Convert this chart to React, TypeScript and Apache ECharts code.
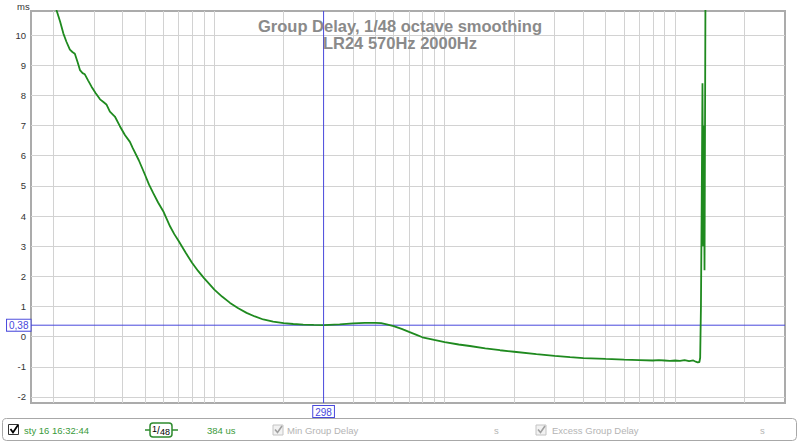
import React, { useEffect, useRef } from "react";
import * as echarts from "echarts";

// Group delay curve (Hz, ms)
const freqs = [
  20, 20.7, 21.4, 22.1, 22.8, 23.6, 24.2, 24.8, 25.5, 26.1, 26.8, 27.4, 28.3, 29.3, 30.5, 31.9,
  33.0, 34.0, 35.2, 37.0, 38.9, 40.9, 43.0, 44.2, 47, 50, 52, 54.3, 57, 60, 64.2, 67, 70, 75,
  80, 85, 90, 95, 100, 108, 117, 127, 138, 150, 163, 180, 200, 220, 243, 270, 298, 350, 400,
  450, 500, 530, 560, 600, 650, 700, 750, 800, 900, 1000, 1150, 1286, 1500, 1738, 2000, 2500,
  3000, 3500, 4000, 5000, 6000, 7000, 8000, 8500, 9000, 9500, 10000, 10500, 11000, 11500,
  12000, 12300, 12530, 12750, 12850, 12950, 13050, 13150, 13250, 13330, 13420, 13550, 13650,
  13800,
];
const delays = [
  11.3, 10.8, 10.45, 10.06, 9.78, 9.52, 9.44, 9.38, 9.1, 8.84, 8.74, 8.7, 8.5, 8.29, 8.08, 7.87,
  7.78, 7.7, 7.46, 7.3, 6.98, 6.69, 6.46, 6.26, 5.85, 5.37, 5.05, 4.76, 4.45, 4.16, 3.66, 3.4,
  3.17, 2.79, 2.45, 2.18, 1.95, 1.75, 1.56, 1.33, 1.12, 0.94, 0.79, 0.67, 0.57, 0.5, 0.45,
  0.42, 0.4, 0.39, 0.385, 0.41, 0.44, 0.455, 0.46, 0.45, 0.41, 0.35, 0.26, 0.16, 0.07, -0.02,
  -0.11, -0.18, -0.26, -0.31, -0.39, -0.45, -0.5, -0.58, -0.64, -0.68, -0.71, -0.74, -0.76,
  -0.775, -0.79, -0.78, -0.79, -0.8, -0.79, -0.8, -0.78, -0.81, -0.79, -0.83, -0.85, -0.84,
  -0.7, 1.0, 4.5, 8.4, 3.0, 7.0, 2.2, 11.5, 25,
];

// Axis ranges
const xMin = 16;
const xMax = 30000;
const yMin = -2.2;
const yMax = 10.8;

// Frequency grid lines (300 Hz lies under the cursor) and their labels
const xGridFreqs = [
  20, 30, 40, 50, 60, 70, 80, 90, 100, 200, 400, 500, 600, 700, 800, 900, 1000, 2000,
  3000, 4000, 5000, 6000, 7000, 8000, 9000, 10000, 20000,
];
const xLabelFreqs = [
  16, 20, 30, 40, 50, 60, 70, 80, 100, 200, 400, 500, 600, 800, 1000, 2000, 3000, 4000,
  5000, 6000, 7000, 8000, 10000, 20000, 30000,
];
const xLabelTexts = [
  "16", "20", "30", "40", "50", "60", "70", "80", "100", "200", "400", "500", "600", "800",
  "1k", "2k", "3k", "4k", "5k", "6k", "7k", "8k", "10k", "20k", "30,0k Hz",
];
const yTicks = [-2, -1, 0, 1, 2, 3, 4, 5, 6, 7, 8, 9, 10];

const cursorFreq = 298;
const cursorDelay = 0.38;
const cursorFreqLabel = "298";
const cursorDelayLabel = "0,38";

const FONT = "Liberation Sans, Arial, sans-serif";
const GRID_COLOR = "#d2d2d2";
const CURSOR = "#4848dc";
const CURVE = "#1f8a1f";

export default function App() {
  const ref = useRef<HTMLDivElement>(null);

  useEffect(() => {
    if (!ref.current) return;
    const chart = echarts.init(ref.current, undefined, { renderer: "svg" });

    const curve = freqs.map((f, i) => [f, delays[i]]);

    const gridLines: any[] = [];
    xGridFreqs.forEach((f) => {
      gridLines.push({ xAxis: f, label: { show: false } });
    });
    yTicks.forEach((v) => {
      gridLines.push({
        yAxis: v,
        label: {
          show: true,
          position: "start",
          formatter: String(v),
          distance: 5,
          color: "#333",
          fontSize: 9.5,
          fontFamily: FONT,
        },
      });
    });
    const hidden = { color: "#fff", opacity: 0 };
    const xLabels = xLabelFreqs.map((f, i) => ({
      xAxis: f,
      lineStyle: hidden,
      label: {
        show: true,
        position: "start",
        formatter: xLabelTexts[i],
        distance: 4,
        color: "#333",
        fontSize: 9.5,
        fontFamily: FONT,
        padding: i === xLabelFreqs.length - 1 ? [0, 16, 0, 0] : 0,
      },
    }));

    const boxLabel = {
      show: true,
      color: CURSOR,
      fontSize: 10,
      fontFamily: FONT,
      backgroundColor: "#fff",
      borderColor: CURSOR,
      borderWidth: 1,
      padding: [1, 2, 0, 2],
    };

    const legendGrey = "#b4b4b4";
    const green = "#3a9a3a";

    chart.setOption({
      animation: false,
      backgroundColor: "#fff",
      title: {
        text: "Group Delay, 1/48 octave smoothing\nLR24 570Hz 2000Hz",
        left: "center",
        top: 12,
        textStyle: {
          fontSize: 16.5,
          fontWeight: "bold",
          color: "#8a8a8a",
          fontFamily: FONT,
          lineHeight: 17.5,
        },
      },
      grid: {
        left: 31,
        top: 11,
        width: 754,
        height: 392,
        show: true,
        borderColor: "#ababab",
        borderWidth: 2,
        backgroundColor: "#fff",
      },
      xAxis: {
        type: "log",
        logBase: 10,
        min: xMin,
        max: xMax,
        axisLine: { show: false },
        axisTick: { show: false },
        axisLabel: { show: false },
        splitLine: { show: false },
        axisPointer: { show: false },
      },
      yAxis: {
        type: "value",
        min: yMin,
        max: yMax,
        axisLine: { show: false },
        axisTick: { show: false },
        axisLabel: { show: false },
        splitLine: { show: false },
        axisPointer: { show: false },
      },
      graphic: [
        {
          type: "text",
          left: 17,
          top: 1,
          style: { text: "ms", fill: "#333", fontSize: 9.5, fontFamily: FONT },
        },
        {
          type: "rect",
          shape: { x: 2.5, y: 418.5, width: 794, height: 22, r: 4 },
          style: { fill: "#fff", stroke: "#a8a8a8", lineWidth: 1 },
        },
        {
          type: "rect",
          shape: { x: 8.5, y: 424.5, width: 10, height: 10 },
          style: { fill: "#fff", stroke: "#333", lineWidth: 1 },
        },
        {
          type: "polyline",
          shape: { points: [[10.5, 429], [13, 432.5], [18, 425]] },
          style: { stroke: "#000", lineWidth: 1.8, fill: "none" },
        },
        {
          type: "text",
          x: 24,
          y: 430,
          style: {
            text: "sty 16 16:32:44",
            fill: green,
            fontSize: 9.5,
            fontFamily: FONT,
            verticalAlign: "middle",
          },
        },
        {
          type: "line",
          shape: { x1: 145, y1: 430, x2: 178, y2: 430 },
          style: { stroke: "#2e8b2e", lineWidth: 1.5 },
        },
        {
          type: "rect",
          shape: { x: 150, y: 423, width: 22, height: 14, r: 3 },
          style: { fill: "#fff", stroke: "#2e8b2e", lineWidth: 1.5 },
        },
        {
          type: "text",
          x: 161,
          y: 430,
          style: {
            text: "{a|1}{b|/}{c|48}",
            align: "center",
            verticalAlign: "middle",
            fill: "#000",
            fontFamily: FONT,
            rich: {
              a: { fontSize: 9, fill: "#000", fontFamily: FONT, verticalAlign: "top", lineHeight: 12 },
              b: { fontSize: 10, fill: "#000", fontFamily: FONT, verticalAlign: "middle", lineHeight: 12 },
              c: { fontSize: 9, fill: "#000", fontFamily: FONT, verticalAlign: "bottom", lineHeight: 12 },
            },
          },
        },
        {
          type: "text",
          x: 207,
          y: 430,
          style: {
            text: "384 us",
            fill: green,
            fontSize: 9.5,
            fontFamily: FONT,
            verticalAlign: "middle",
          },
        },
        {
          type: "rect",
          shape: { x: 273, y: 425, width: 10, height: 10 },
          style: { fill: "#f2f2f2", stroke: "#c4c4c4", lineWidth: 1 },
        },
        {
          type: "polyline",
          shape: { points: [[275, 429.5], [277.5, 432.5], [282, 426]] },
          style: { stroke: "#a0a0a0", lineWidth: 1.6, fill: "none" },
        },
        {
          type: "text",
          x: 287,
          y: 430,
          style: {
            text: "Min Group Delay",
            fill: legendGrey,
            fontSize: 9.5,
            fontFamily: FONT,
            verticalAlign: "middle",
          },
        },
        {
          type: "text",
          x: 494,
          y: 430,
          style: { text: "s", fill: legendGrey, fontSize: 9.5, fontFamily: FONT, verticalAlign: "middle" },
        },
        {
          type: "rect",
          shape: { x: 536, y: 425, width: 10, height: 10 },
          style: { fill: "#f2f2f2", stroke: "#c4c4c4", lineWidth: 1 },
        },
        {
          type: "polyline",
          shape: { points: [[538, 429.5], [540.5, 432.5], [545, 426]] },
          style: { stroke: "#a0a0a0", lineWidth: 1.6, fill: "none" },
        },
        {
          type: "text",
          x: 552,
          y: 430,
          style: {
            text: "Excess Group Delay",
            fill: legendGrey,
            fontSize: 9.5,
            fontFamily: FONT,
            verticalAlign: "middle",
          },
        },
        {
          type: "text",
          x: 760,
          y: 430,
          style: { text: "s", fill: legendGrey, fontSize: 9.5, fontFamily: FONT, verticalAlign: "middle" },
        },
      ],
      series: [
        {
          type: "line",
          data: [],
          silent: true,
          markLine: {
            silent: true,
            z: 1,
            symbol: ["none", "none"],
            lineStyle: { color: GRID_COLOR, width: 1, type: "solid" },
            data: [...gridLines, ...xLabels],
          },
        },
        {
          name: "cursorV",
          type: "line",
          z: 4,
          silent: true,
          data: [
            [cursorFreq, yMin],
            [cursorFreq, yMax],
          ],
          showSymbol: false,
          symbol: "none",
          itemStyle: { color: CURSOR },
          lineStyle: { color: CURSOR, width: 1 },
          markPoint: {
            silent: true,
            z: 7,
            symbol: "rect",
            symbolSize: 1,
            itemStyle: { color: "rgba(0,0,0,0)" },
            data: [
              {
                coord: [cursorFreq, yMin],
                label: { ...boxLabel, position: "bottom", distance: 2.5, formatter: cursorFreqLabel },
              },
            ],
          },
        },
        {
          name: "cursorH",
          type: "line",
          z: 2,
          silent: true,
          data: [
            [xMin, cursorDelay],
            [xMax, cursorDelay],
          ],
          showSymbol: false,
          symbol: "none",
          itemStyle: { color: CURSOR },
          lineStyle: { color: CURSOR, width: 1 },
          markPoint: {
            silent: true,
            z: 7,
            symbol: "rect",
            symbolSize: 1,
            itemStyle: { color: "rgba(0,0,0,0)" },
            data: [
              {
                coord: [xMin, cursorDelay],
                label: { ...boxLabel, position: "left", distance: 0, formatter: cursorDelayLabel },
              },
            ],
          },
        },
        {
          type: "line",
          z: 3,
          data: curve,
          showSymbol: false,
          symbol: "none",
          clip: true,
          lineStyle: { color: CURVE, width: 1.8 },
        },
      ],
    });

    return () => chart.dispose();
  }, []);

  return (
    <div
      ref={ref}
      style={{ position: "fixed", left: 0, top: 0, width: 800, height: 443 }}
    />
  );
}
